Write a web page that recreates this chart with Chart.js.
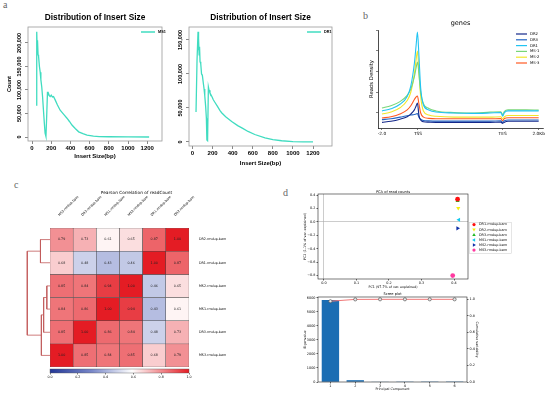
<!DOCTYPE html>
<html>
<head>
<meta charset="utf-8">
<script src="https://cdn.jsdelivr.net/npm/chart.js@4/dist/chart.umd.min.js"></script>
<style>
  body { margin: 0; width: 550px; height: 395px; background: #fff; position: relative; overflow: hidden; }
  canvas { position: absolute; }
  .tag { position: absolute; font: 10px/10px 'Liberation Serif', serif; color: #666; }
</style>
</head>
<body>
<div class="tag" style="left:3px;top:0px">a</div>
<div class="tag" style="left:363px;top:11px">b</div>
<div class="tag" style="left:14px;top:180px">c</div>
<div class="tag" style="left:283px;top:188px">d</div>

<canvas id="ins1" width="168" height="172" style="left:0px;top:0px"></canvas>
<canvas id="ins2" width="168" height="178" style="left:170px;top:0px"></canvas>
<canvas id="prof" width="200" height="130" style="left:350px;top:14px"></canvas>
<canvas id="dendro" width="40" height="155" style="left:15px;top:220px"></canvas>
<canvas id="heat" width="225" height="195" style="left:40px;top:180px"></canvas>
<canvas id="cbar" width="160" height="33" style="left:40px;top:362px"></canvas>
<canvas id="pca" width="232" height="110" style="left:290px;top:183px"></canvas>
<canvas id="scree" width="200" height="109" style="left:290px;top:286px"></canvas>

<script>
// ---- panel a: insert size distributions
const insMs1Bp = [42,49,53,56,58,63,68,77,85,92,101,110,119,128,136,145,152,161,165,171,180,189,200,212,224,241,265,293,330,364,390,416,450,486,530,573,640,700,800,1000,1220];
const insMs1Count = [68000,224000,190000,185000,206000,175000,172000,150000,138000,122000,107000,85000,57000,30000,8000,1000,40000,96000,90000,93000,88000,86000,89000,85000,86000,79000,68000,57000,48000,40000,33000,25500,18000,11000,7000,4000,2000,1000,500,200,0];
const insDr1Bp = [35,45,55,58,62,66,70,75,82,90,98,108,115,122,131,138,143,150,158,165,174,185,195,207,224,250,274,290,330,390,450,500,553,620,722,800,888,1000,1100,1200];
const insDr1Count = [44000,120000,162000,135000,152000,128000,140000,118000,115000,100000,98000,86000,78000,68000,52000,35000,3000,2000,81000,76000,72000,69000,66000,62000,58000,52000,46000,43000,37000,30000,24000,20000,15500,11000,6000,3500,1800,600,200,50];
const insTicksX = [0,200,400,600,800,1000,1200];
const insTicksY1 = [0,50000,100000,150000,200000];
const insTicksY2 = [0,50000,100000,150000];

// ---- panel b: read density profile (bins: -2kb..TSS = 0..20, body 20..67, TES..+2kb 67..87)
const profBins = [0,5,10,14,16,18,19,19.7,20.5,21.5,23,26,30,40,50,60,66,67,68,70,80,87];
const profDR2 = [0.55,0.6,0.7,0.82,0.95,1.15,1.35,1.48,0.9,0.66,0.58,0.56,0.55,0.55,0.55,0.55,0.56,0.5,0.56,0.6,0.6,0.6];
const profDR3 = [0.68,0.72,0.8,0.87,0.9,0.93,0.95,0.97,0.8,0.7,0.64,0.62,0.61,0.61,0.61,0.61,0.62,0.55,0.63,0.66,0.66,0.66];
const profDR1 = [1.1,1.2,1.42,1.8,2.3,3.4,4.3,4.9,3.8,2.2,1.4,1.15,1.05,1.0,0.98,1.0,1.02,0.85,1.02,1.1,1.1,1.1];
const profMS1 = [1.24,1.35,1.55,1.85,2.15,2.75,3.2,3.46,2.9,2.0,1.45,1.22,1.1,1.02,1.0,1.04,1.06,0.92,1.08,1.15,1.15,1.14];
const profMS2 = [0.95,1.05,1.25,1.6,2.0,2.9,3.6,3.99,3.0,1.8,1.1,0.9,0.84,0.8,0.8,0.8,0.82,0.72,0.82,0.88,0.88,0.88];
const profMS3 = [0.76,0.82,0.95,1.15,1.35,1.65,1.78,1.82,1.45,1.0,0.8,0.74,0.72,0.72,0.72,0.72,0.73,0.62,0.74,0.77,0.77,0.77];
const profNames = ['DR2','DR3','DR1','MS-1','MS-2','MS-3'];
const profTickPos = [0,20,67,87];
const profTickLabels = ['-2.0','TSS','TES','2.0Kb'];

// ---- panel c: correlation heatmap
const heatCols = ['MS3.rmdup.bam','DR3.rmdup.bam','MS1.rmdup.bam','MS2.rmdup.bam','DR1.rmdup.bam','DR2.rmdup.bam'];
const heatRows = ['DR2.rmdup.bam','DR1.rmdup.bam','MS2.rmdup.bam','MS1.rmdup.bam','DR3.rmdup.bam','MS3.rmdup.bam'];
const heatDR2 = [0.79,0.73,0.61,0.65,0.87,1.00];
const heatDR1 = [0.68,0.48,0.43,0.46,1.00,0.87];
const heatMS2 = [0.85,0.84,0.94,1.00,0.46,0.65];
const heatMS1 = [0.84,0.86,1.00,0.94,0.43,0.61];
const heatDR3 = [0.85,1.00,0.86,0.84,0.48,0.73];
const heatMS3 = [1.00,0.85,0.84,0.85,0.68,0.79];
const heatVals = [heatDR2, heatDR1, heatMS2, heatMS1, heatDR3, heatMS3];
// merges: [node a, node b, height]; leaves are rows 0..5, new nodes get 6, 7, ...
const dendroMerges = [[0,1,0.21],[2,3,0.07],[7,4,0.14],[8,5,0.19],[6,9,0.5]];
const cbarTicks = [0,0.2,0.4,0.6,0.8,1.0];

// ---- panel d: PCA and scree
const pcaNames = ['DR1.rmdup.bam','DR2.rmdup.bam','DR3.rmdup.bam','MS1.rmdup.bam','MS2.rmdup.bam','MS3.rmdup.bam'];
const pcaX = [0.411,0.413,0.411,0.415,0.411,0.396];
const pcaY = [0.341,0.206,0.316,0.034,-0.095,-0.80];
const pcaTicksX = [0,0.1,0.2,0.3,0.4];
const pcaTicksY = [-0.8,-0.6,-0.4,-0.2,0,0.2,0.4];
const screePC = ['1','2','3','4','5','6'];
const screeEigen = [5860,130,30,6,3,1];
const screeCum = [0.977,0.999,1.0,1.0,1.0,1.0];
const screeTicksY = [0,1000,2000,3000,4000,5000,6000];
const screeTicksY2 = [0,0.2,0.4,0.6,0.8,1.0];

const arial = "'Liberation Sans', Arial, sans-serif";
const dv = "'DejaVu Sans', sans-serif";
Chart.defaults.font.family = dv;
Chart.defaults.color = '#000';
Chart.defaults.animation = false;
Chart.defaults.responsive = false;
Chart.defaults.plugins.legend.display = false;
Chart.defaults.plugins.tooltip.enabled = false;

function framePlugin(color, lw) {
  return { id: 'frame', afterDatasetsDraw(chart) {
    const a = chart.chartArea, c = chart.ctx;
    c.save(); c.strokeStyle = color; c.lineWidth = lw;
    c.strokeRect(a.left, a.top, a.right - a.left, a.bottom - a.top);
    c.restore();
  }};
}
function titlePlugin(text, font, y, dx) {
  return { id: 'ttl', afterDraw(chart) {
    const a = chart.chartArea, c = chart.ctx;
    c.save(); c.font = font; c.fillStyle = '#000'; c.textAlign = 'center'; c.textBaseline = 'middle';
    c.fillText(text, (a.left + a.right) / 2 + (dx || 0), y);
    c.restore();
  }};
}
// R style vertical tick labels on the y axis
function rotTickPlugin(axisId, x, font) {
  return { id: 'rotTicks', afterDraw(chart) {
    const s = chart.scales[axisId], c = chart.ctx;
    c.save(); c.font = font; c.fillStyle = '#000'; c.textAlign = 'center'; c.textBaseline = 'middle';
    s.ticks.forEach(t => {
      c.save(); c.translate(x, s.getPixelForValue(t.value)); c.rotate(-Math.PI / 2);
      c.fillText(t.label, 0, 0); c.restore();
    });
    c.restore();
  }};
}
function lineLegend(x, y, len, rowH, font, lw) {
  return { id: 'lineLegend', afterDraw(chart) {
    const c = chart.ctx;
    c.save(); c.font = font; c.textBaseline = 'middle'; c.textAlign = 'left';
    chart.data.datasets.forEach((d, i) => {
      const yy = y + i * rowH;
      c.strokeStyle = d.borderColor; c.lineWidth = lw;
      c.beginPath(); c.moveTo(x, yy); c.lineTo(x + len, yy); c.stroke();
      c.fillStyle = '#000'; c.fillText(d.label, x + len + 3, yy);
    });
    c.restore();
  }};
}
function marker(c, style, rot, r, x, y) {
  c.save(); c.translate(x, y); c.rotate(rot * Math.PI / 180); c.beginPath();
  if (style === 'triangle') { c.moveTo(0, -r * 1.2); c.lineTo(r * 1.1, r * 0.7); c.lineTo(-r * 1.1, r * 0.7); c.closePath(); }
  else c.arc(0, 0, r, 0, Math.PI * 2);
  c.fill(); c.restore();
}

const insColor = '#40dcc0';
function insertChart(id, name, bp, counts, opt) {
  return new Chart(id, {
    type: 'scatter',
    data: { datasets: [{ label: name, data: bp.map((x, i) => ({ x, y: counts[i] })), showLine: true,
      borderColor: insColor, borderWidth: 1.3, pointRadius: 0, tension: 0 }] },
    options: {
      layout: { padding: opt.pad },
      scales: {
        x: { min: opt.xmin, max: opt.xmax,
          afterBuildTicks: s => { s.ticks = insTicksX.map(v => ({ value: v })); },
          afterFit: s => { s.height = 22; },
          grid: { drawOnChartArea: false, tickLength: 3, color: '#888' }, border: { display: false },
          ticks: { font: { family: arial, size: 6, weight: 'bold' }, padding: 1, maxRotation: 0, autoSkip: false,
            callback: v => String(v) },
          title: { display: true, text: 'Insert Size(bp)', font: { family: arial, size: 6, weight: 'bold' }, padding: { top: 0, bottom: opt.xtPad } } },
        y: { min: opt.ymin, max: opt.ymax,
          afterBuildTicks: s => { s.ticks = opt.yticks.map(v => ({ value: v })); },
          afterFit: s => { s.width = opt.yw; },
          grid: { drawOnChartArea: false, tickLength: 3, color: '#888' }, border: { display: false },
          ticks: { display: false, callback: v => v.toLocaleString('en-US') },
          title: { display: opt.ytitle, text: 'Count', font: { family: arial, size: 5.5, weight: 'bold' }, padding: { top: 5.7, bottom: 0 } } }
      }
    },
    plugins: [framePlugin('#999', 0.8),
      titlePlugin('Distribution of Insert Size', "bold 8.3px " + arial, 18, 0),
      rotTickPlugin('y', opt.tickX, "bold 5.6px " + arial),
      lineLegend(opt.legX, 32, 14, 6, "bold 3.8px " + arial, 1.5)]
  });
}
insertChart('ins1', 'MS1', insMs1Bp, insMs1Count, { pad: { left: 0, top: 27, right: 6, bottom: 9 },
  xmin: -42, xmax: 1354, ymin: -8500, ymax: 234000, yticks: insTicksY1, yw: 28, ytitle: true, tickX: 19, legX: 141, xtPad: 3 });
insertChart('ins2', 'DR1', insDr1Bp, insDr1Count, { pad: { left: 0, top: 27, right: 6, bottom: 10 },
  xmin: -35, xmax: 1389, ymin: -5900, ymax: 169000, yticks: insTicksY2, yw: 19, ytitle: false, tickX: 10, legX: 137, xtPad: 1.4 });

// ---- panel b
const profSeries = [profDR2, profDR3, profDR1, profMS1, profMS2, profMS3];
const profColors = ['#14288a','#2566c4','#22c4f2','#78d678','#f2e62a','#ff5a22'];
new Chart('prof', {
  type: 'scatter',
  data: { datasets: profNames.map((n, i) => ({ label: n, data: profBins.map((x, k) => ({ x, y: profSeries[i][k] })),
    showLine: true, borderColor: profColors[i], borderWidth: 1.1, pointRadius: 0, cubicInterpolationMode: 'monotone' })) },
  options: {
    layout: { padding: { left: 0, top: 16, right: 7, bottom: 4 } },
    scales: {
      x: { min: -2.2, max: 89.4,
        afterBuildTicks: s => { s.ticks = profTickPos.map(v => ({ value: v })); },
        afterFit: s => { s.height = 12; },
        grid: { drawOnChartArea: false, tickLength: 2, color: '#000', lineWidth: 0.5 },
        border: { color: '#000', width: 0.7 },
        ticks: { font: { size: 4.3 }, padding: 1, maxRotation: 0, autoSkip: false,
          callback: v => profTickLabels[profTickPos.indexOf(v)] } },
      y: { min: 0.277, max: 5.0,
        afterBuildTicks: s => { s.ticks = [1, 2, 3, 4, 5].map(v => ({ value: v })); },
        afterFit: s => { s.width = 28; },
        grid: { drawOnChartArea: false, tickLength: 2, color: '#000', lineWidth: 0.5 },
        border: { color: '#000', width: 0.7 },
        ticks: { display: false },
        title: { display: true, text: 'Reads Density', font: { size: 5.3 }, padding: { top: 18.8, bottom: 0 } } }
    }
  },
  plugins: [titlePlugin('genes', "6.5px " + dv, 9, 0), lineLegend(166, 20, 11, 5.8, "3.8px " + dv, 1.2)]
});

// ---- panel c
const cmapStops = [[0, [35, 55, 150]], [0.3, [120, 135, 200]], [0.59, [255, 255, 255]], [1, [228, 28, 36]]];
function cmap(v) {
  for (let k = 1; k < cmapStops.length; k++) {
    const [v0, c0] = cmapStops[k - 1], [v1, c1] = cmapStops[k];
    if (v <= v1) {
      const t = (v - v0) / (v1 - v0);
      return 'rgb(' + c0.map((c, i) => Math.round(c + (c1[i] - c) * t)).join(',') + ')';
    }
  }
  return 'rgb(228,28,36)';
}
const cellText = { id: 'cellText', afterDatasetsDraw(chart) {
  const c = chart.ctx;
  c.save(); c.font = "3.3px " + dv; c.fillStyle = '#222'; c.textAlign = 'center'; c.textBaseline = 'middle';
  chart.data.datasets.forEach((d, i) => {
    chart.getDatasetMeta(i).data.forEach((el, j) => c.fillText(heatVals[i][j].toFixed(2), el.x, (el.y + el.base) / 2));
  });
  c.restore();
}};
new Chart('heat', {
  type: 'bar',
  data: { labels: heatCols, datasets: heatRows.map((r, i) => ({ label: r,
    data: heatCols.map(() => [5 - i, 6 - i]), backgroundColor: heatVals[i].map(cmap),
    borderColor: '#444', borderWidth: 0.5, borderSkipped: false, barPercentage: 1, categoryPercentage: 1 })) },
  options: {
    layout: { padding: { left: 10, top: 6, right: 36, bottom: 8 } },
    scales: {
      x: { position: 'top', stacked: true, afterFit: s => { s.height = 42; },
        grid: { display: false }, border: { display: false },
        ticks: { font: { size: 3.3 }, minRotation: 45, maxRotation: 45, padding: 3, autoSkip: false } },
      y: { position: 'right', min: 0, max: 6, afterFit: s => { s.width = 40; },
        afterBuildTicks: s => { s.ticks = heatRows.map((r, i) => ({ value: 5.5 - i })); },
        grid: { display: false }, border: { display: false },
        ticks: { font: { size: 3.3 }, padding: 2, autoSkip: false, callback: v => heatRows[Math.round(5.5 - v)] } }
    }
  },
  plugins: [cellText, titlePlugin('Pearson Correlation of readCount', "4.3px " + dv, 13, 17)]
});

const nodeY = heatRows.map((r, i) => 5.5 - i);
const nodeH = heatRows.map(() => 0);
const dendroSets = dendroMerges.map(([a, b, h]) => {
  const seg = [{ x: nodeH[a], y: nodeY[a] }, { x: h, y: nodeY[a] }, { x: h, y: nodeY[b] }, { x: nodeH[b], y: nodeY[b] }];
  nodeY.push((nodeY[a] + nodeY[b]) / 2); nodeH.push(h);
  return { data: seg, showLine: true, borderColor: '#c25b5b', borderWidth: 0.8, pointRadius: 0, tension: 0, clip: false };
});
new Chart('dendro', {
  type: 'scatter',
  data: { datasets: dendroSets },
  options: {
    layout: { padding: { left: 10, top: 8, right: 5, bottom: 8 } },
    scales: { x: { min: 0, max: 0.55, reverse: true, display: false }, y: { min: 0, max: 6, display: false } }
  }
});

new Chart('cbar', {
  type: 'bar',
  data: { labels: [''], datasets: [{ data: [[0, 1]], barPercentage: 1, categoryPercentage: 1, borderWidth: 0,
    backgroundColor: ctx => {
      const ch = ctx.chart, sx = ch.scales.x;
      if (!ch.chartArea || !sx) return '#fff';
      const g = ch.ctx.createLinearGradient(sx.getPixelForValue(0), 0, sx.getPixelForValue(1), 0);
      cmapStops.forEach(([v, c]) => g.addColorStop(v, 'rgb(' + c.join(',') + ')'));
      return g;
    } }] },
  options: {
    indexAxis: 'y',
    layout: { padding: { left: 10, top: 7, right: 11, bottom: 12 } },
    scales: {
      x: { min: 0, max: 1, afterBuildTicks: s => { s.ticks = cbarTicks.map(v => ({ value: v })); },
        afterFit: s => { s.height = 10; },
        grid: { drawOnChartArea: false, tickLength: 1.5, color: '#000', lineWidth: 0.5 }, border: { display: false },
        ticks: { font: { size: 3.3 }, padding: 1, maxRotation: 0, autoSkip: false, callback: v => v.toFixed(1) } },
      y: { display: false }
    }
  },
  plugins: [framePlugin('#555', 0.4)]
});

// ---- panel d
const pcaColors = ['#ff1010','#f5ee10','#22b822','#10c8ee','#1030a8','#ff3aa0'];
const pcaStyles = ['circle','triangle','triangle','triangle','triangle','circle'];
const pcaRot = [0, 180, 0, 270, 90, 0];
const pcaLegend = { id: 'pcaLegend', afterDraw(chart) {
  const c = chart.ctx;
  c.save(); c.strokeStyle = '#ccc'; c.lineWidth = 0.5; c.strokeRect(179.5, 39.5, 42, 31);
  c.font = "3.4px " + dv; c.textAlign = 'left'; c.textBaseline = 'middle';
  pcaNames.forEach((n, i) => {
    const y = 41.6 + i * 5.1;
    c.fillStyle = pcaColors[i]; marker(c, pcaStyles[i], pcaRot[i], 1.6, 184, y);
    c.fillStyle = '#000'; c.fillText(n, 189, y);
  });
  c.restore();
}};
const zeroGrid = ctx => (ctx.tick && ctx.tick.value === 0 ? '#aaa' : 'rgba(0,0,0,0)');
new Chart('pca', {
  type: 'scatter',
  data: { datasets: pcaNames.map((n, i) => ({ label: n, data: [{ x: pcaX[i], y: pcaY[i] }],
    pointStyle: pcaStyles[i], rotation: pcaRot[i], radius: 2.4, backgroundColor: pcaColors[i], borderWidth: 0 })) },
  options: {
    layout: { padding: { left: 0, top: 11, right: 54, bottom: 2 } },
    scales: {
      x: { min: -0.018, max: 0.443, afterBuildTicks: s => { s.ticks = pcaTicksX.map(v => ({ value: v })); },
        afterFit: s => { s.height = 12; },
        grid: { color: zeroGrid, tickColor: '#000', lineWidth: 0.6, tickLength: 1.5 }, border: { display: false },
        ticks: { font: { size: 3.4 }, padding: 1, maxRotation: 0, autoSkip: false, callback: v => v.toFixed(1) },
        title: { display: true, text: 'PC1 (97.7% of var. explained)', font: { size: 3.3 }, padding: { top: 0, bottom: 1.5 } } },
      y: { min: -0.851, max: 0.418, afterBuildTicks: s => { s.ticks = pcaTicksY.map(v => ({ value: v })); },
        afterFit: s => { s.width = 28; },
        grid: { color: zeroGrid, tickColor: '#000', lineWidth: 0.6, tickLength: 1.5 }, border: { display: false },
        ticks: { font: { size: 3.4 }, padding: 1, autoSkip: false, callback: v => v.toFixed(1).replace('-', '\u2212') },
        title: { display: true, text: 'PC2 (1.1% of var. explained)', font: { size: 3.3 }, padding: { top: 13, bottom: 0 } } }
    }
  },
  plugins: [framePlugin('#222', 0.6), titlePlugin('PCA of read counts', "3.6px " + dv, 9, 0), pcaLegend]
});

new Chart('scree', {
  type: 'bar',
  data: { labels: screePC, datasets: [
    { type: 'line', label: 'Cumulative variability', data: screeCum, yAxisID: 'y2', order: 1,
      borderColor: '#f07878', borderWidth: 1, pointRadius: 1.6, pointBackgroundColor: '#e8e8e8',
      pointBorderColor: '#444', pointBorderWidth: 0.6, tension: 0 },
    { label: 'Eigenvalue', data: screeEigen, yAxisID: 'y', order: 2, backgroundColor: '#1a6db3',
      barPercentage: 0.7, categoryPercentage: 1 }
  ] },
  options: {
    layout: { padding: { left: 0, top: 11, right: 5, bottom: 2 } },
    scales: {
      x: { afterFit: s => { s.height = 11; },
        grid: { drawOnChartArea: false, offset: false, color: '#000', lineWidth: 0.6, tickLength: 1.5 }, border: { display: false },
        ticks: { font: { size: 3.4 }, padding: 1, maxRotation: 0 },
        title: { display: true, text: 'Principal Component', font: { size: 3.3 }, padding: { top: 0, bottom: 2 } } },
      y: { position: 'left', min: 0, max: 6071, afterBuildTicks: s => { s.ticks = screeTicksY.map(v => ({ value: v })); },
        afterFit: s => { s.width = 28; },
        grid: { drawOnChartArea: false, color: '#000', lineWidth: 0.6, tickLength: 1.5 }, border: { display: false },
        ticks: { font: { size: 3.4 }, padding: 1, autoSkip: false, callback: v => String(v) },
        title: { display: true, text: 'Eigenvalue', font: { size: 3.3 }, padding: { top: 13, bottom: 0 } } },
      y2: { position: 'right', min: 0, max: 1.028, afterBuildTicks: s => { s.ticks = screeTicksY2.map(v => ({ value: v })); },
        afterFit: s => { s.width = 18; },
        grid: { drawOnChartArea: false, color: '#000', lineWidth: 0.6, tickLength: 1.5 }, border: { display: false },
        ticks: { font: { size: 3.4 }, padding: 1, autoSkip: false, callback: v => v.toFixed(1) },
        title: { display: true, text: 'Cumulative variability', font: { size: 3.3 }, padding: { top: 6, bottom: 0 } } }
    }
  },
  plugins: [framePlugin('#222', 0.6), titlePlugin('Scree plot', "3.6px " + dv, 8, 0)]
});
</script>
</body>
</html>
